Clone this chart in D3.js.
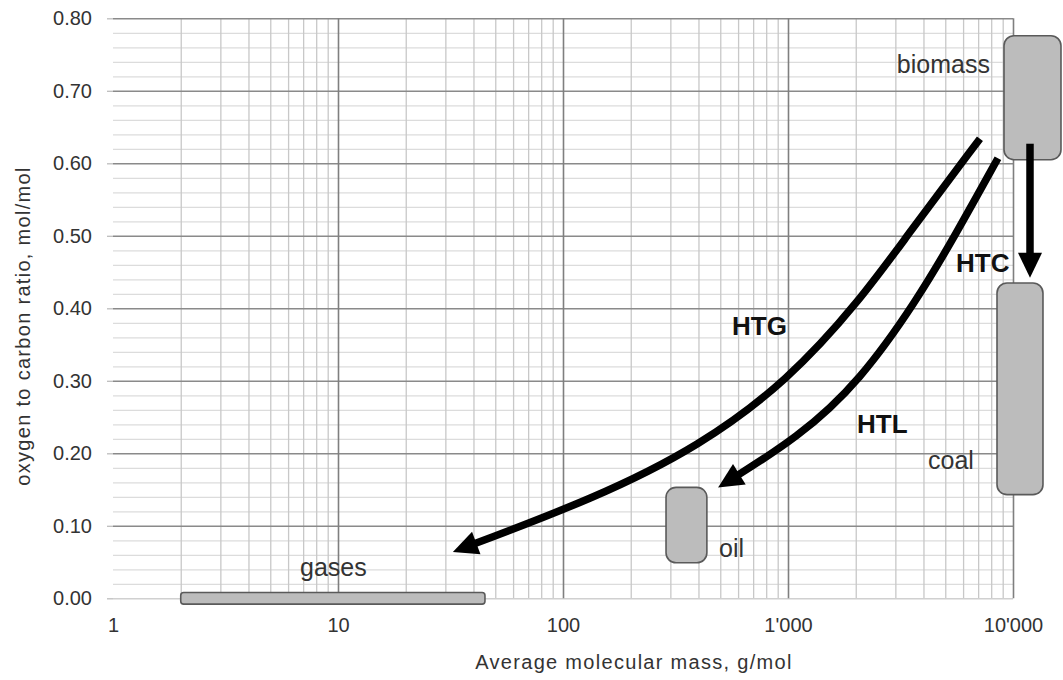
<!DOCTYPE html>
<html>
<head>
<meta charset="utf-8">
<script src="https://cdn.jsdelivr.net/npm/d3@7"></script>
<style>
  body { margin: 0; background: #fff; }
  svg { display: block; font-family: "Liberation Sans", Arial, sans-serif; }
  .grid .domain { display: none; }
  .ticklabels .domain { display: none; }
</style>
</head>
<body>
<svg id="chart" width="1063" height="680"></svg>
<script>
// axis ticks
const xTicks = [1, 10, 100, 1000, 10000];
const xTickLabels = ['1', '10', '100', "1'000", "10'000"];
const yTicks = [0, 0.1, 0.2, 0.3, 0.4, 0.5, 0.6, 0.7, 0.8];

// product regions (g/mol, mol/mol)
const boxNames = ['gases', 'oil', 'coal', 'biomass'];
const boxMassLow = [2, 287, 8490, 9120];
const boxMassHigh = [45, 436, 13590, 16340];
const boxRatioLow = [-0.008, 0.049, 0.143, 0.605];
const boxRatioHigh = [0.008, 0.153, 0.435, 0.776];

// conversion pathways
const htgMass = [7130, 3380, 2090, 1000, 406, 142, 32.4];
const htgRatio = [0.634, 0.50, 0.411, 0.30, 0.21, 0.139, 0.064];
const htlMass = [8570, 5520, 3740, 2090, 1130, 489];
const htlRatio = [0.607, 0.50, 0.411, 0.30, 0.223, 0.153];
const htcMass = [11900, 11900];
const htcRatio = [0.627, 0.442];

// text annotations, anchored in data space
const noteText = ['biomass', 'coal', 'oil', 'gases', 'HTC', 'HTG', 'HTL'];
const noteMass = [7900, 4190, 494, 6.78, 5580, 564, 2027];
const noteRatio = [0.725, 0.178, 0.057, 0.031, 0.45, 0.363, 0.228];

const svg = d3.select('#chart');
const plotLeft = 113, plotRight = 1013, plotTop = 18.3, plotBottom = 598.3;

const x = d3.scaleLog().domain([1, 10000]).range([plotLeft, plotRight]);
const y = d3.scaleLinear().domain([0, 0.8]).range([plotBottom, plotTop]);

// minor grid values
const xMinor = [];
[1, 10, 100, 1000].forEach(d => d3.range(2, 10).forEach(k => xMinor.push(k * d)));
const yMinor = d3.range(0, 0.8001, 0.02).filter(v => Math.abs(v * 10 - Math.round(v * 10)) > 1e-6);

const gridG = svg.append('g');

gridG.append('g')
  .attr('class', 'grid')
  .attr('transform', `translate(${plotLeft},0)`)
  .call(d3.axisLeft(y).tickValues(yMinor).tickSize(-(plotRight - plotLeft)).tickFormat(''))
  .selectAll('line').attr('stroke', '#dcdcdc').attr('stroke-width', 1.3);

gridG.append('g')
  .attr('class', 'grid')
  .attr('transform', `translate(0,${plotBottom})`)
  .call(d3.axisBottom(x).tickValues(xMinor).tickSize(-(plotBottom - plotTop)).tickFormat(''))
  .selectAll('line').attr('stroke', '#c8c8c8').attr('stroke-width', 1.3);

// major horizontal lines + small outer ticks
gridG.append('g')
  .attr('class', 'grid')
  .attr('transform', `translate(${plotLeft},0)`)
  .call(d3.axisLeft(y).tickValues(yTicks).tickSize(-(plotRight - plotLeft)).tickFormat(''))
  .selectAll('line')
  .attr('stroke', d => (d === 0 ? '#d0d0d0' : '#8a8a8a'))
  .attr('stroke-width', 1.6);

gridG.append('g')
  .attr('class', 'grid')
  .attr('transform', `translate(${plotLeft},0)`)
  .call(d3.axisLeft(y).tickValues(yTicks).tickSize(6).tickFormat(''))
  .selectAll('line').attr('stroke', '#bdbdbd').attr('stroke-width', 1.3);

// decade lines
gridG.append('g')
  .attr('class', 'grid')
  .attr('transform', `translate(0,${plotBottom})`)
  .call(d3.axisBottom(x).tickValues(xTicks.slice(1)).tickSize(-(plotBottom - plotTop)).tickFormat(''))
  .selectAll('line').attr('stroke', '#7f7f7f').attr('stroke-width', 1.6);

// tick labels
const yLab = svg.append('g')
  .attr('class', 'ticklabels')
  .attr('transform', `translate(${plotLeft},0)`)
  .call(d3.axisLeft(y).tickValues(yTicks).tickSize(0).tickPadding(21).tickFormat(d3.format('.2f')));
yLab.attr('font-family', null);
yLab.selectAll('text').attr('font-size', 20).attr('fill', '#333');

const xLab = svg.append('g')
  .attr('class', 'ticklabels')
  .attr('transform', `translate(0,${plotBottom})`)
  .call(d3.axisBottom(x).tickValues(xTicks).tickSize(0).tickPadding(20)
    .tickFormat((d, i) => xTickLabels[i]));
xLab.attr('font-family', null);
xLab.selectAll('text').attr('font-size', 20).attr('fill', '#333');

// axis titles
svg.append('text')
  .attr('x', 634).attr('y', 669)
  .attr('text-anchor', 'middle')
  .attr('font-size', 20).attr('letter-spacing', 1.3)
  .attr('fill', '#333')
  .text('Average molecular mass, g/mol');

svg.append('text')
  .attr('transform', 'translate(30,326) rotate(-90)')
  .attr('text-anchor', 'middle')
  .attr('font-size', 20).attr('letter-spacing', 1.3)
  .attr('fill', '#333')
  .text('oxygen to carbon ratio, mol/mol');

// region boxes
const boxes = boxNames.map((name, i) => ({
  name,
  x0: boxMassLow[i], x1: boxMassHigh[i],
  y0: boxRatioLow[i], y1: boxRatioHigh[i],
}));

svg.append('g').selectAll('rect')
  .data(boxes)
  .join('rect')
  .attr('x', d => x(d.x0))
  .attr('y', d => y(d.y1))
  .attr('width', d => x(d.x1) - x(d.x0))
  .attr('height', d => y(d.y0) - y(d.y1))
  .attr('rx', d => Math.min(10, (y(d.y0) - y(d.y1)) / 4))
  .attr('fill', '#bcbcbc')
  .attr('stroke', '#5a5a5a')
  .attr('stroke-width', 1.6);

// arrows
const line = d3.line()
  .x(d => x(d[0]))
  .y(d => y(d[1]))
  .curve(d3.curveBasis);

const headLen = 25;
const headHalf = 12;

function drawArrow(mass, ratio) {
  const pts = mass.map((m, i) => [m, ratio[i]]);
  const path = svg.append('path')
    .attr('d', line(pts))
    .attr('fill', 'none')
    .attr('stroke', '#000')
    .attr('stroke-width', 7.5);
  const len = path.node().getTotalLength();
  path.attr('stroke-dasharray', `${len - headLen + 3} ${len + 10}`);
  const tip = path.node().getPointAtLength(len);
  const base = path.node().getPointAtLength(len - headLen);
  const dx = tip.x - base.x, dy = tip.y - base.y;
  const n = Math.hypot(dx, dy);
  const ux = dx / n, uy = dy / n;
  const bx = tip.x - ux * headLen, by = tip.y - uy * headLen;
  svg.append('path')
    .attr('d', `M${tip.x},${tip.y} L${bx - uy * headHalf},${by + ux * headHalf} L${bx + uy * headHalf},${by - ux * headHalf} Z`)
    .attr('fill', '#000');
}

drawArrow(htgMass, htgRatio);
drawArrow(htlMass, htlRatio);
drawArrow(htcMass, htcRatio);

// annotations
svg.append('g').selectAll('text')
  .data(noteText)
  .join('text')
  .attr('x', (d, i) => x(noteMass[i]))
  .attr('y', (d, i) => y(noteRatio[i]))
  .attr('text-anchor', d => (d === 'biomass' ? 'end' : 'start'))
  .attr('font-size', d => (d.startsWith('HT') ? 26 : 25))
  .attr('font-weight', d => (d.startsWith('HT') ? 'bold' : 'normal'))
  .attr('fill', d => (d.startsWith('HT') ? '#111' : '#333'))
  .text(d => d);
</script>
</body>
</html>
